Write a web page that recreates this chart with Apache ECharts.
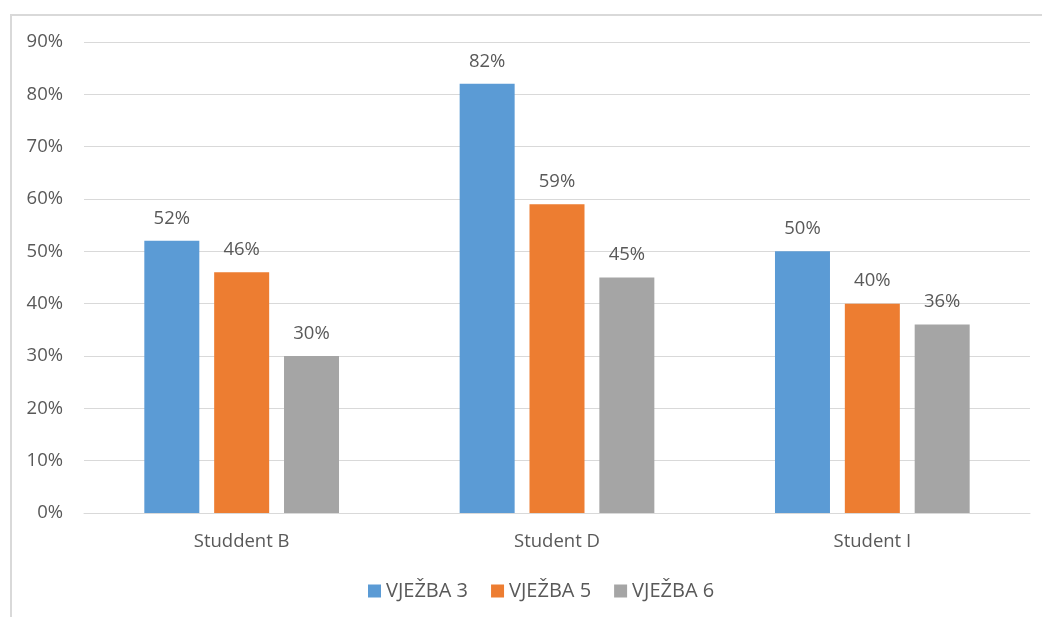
<!DOCTYPE html>
<html><head><meta charset="utf-8">
<script src="https://cdn.jsdelivr.net/npm/echarts@6/dist/echarts.min.js"></script>
<style>
html,body{margin:0;padding:0;background:#fff;}
#frame{position:absolute;left:10px;top:14px;width:1100px;height:700px;border-left:2px solid #d9d9d9;border-top:2px solid #d9d9d9;box-sizing:border-box;}
#c{position:absolute;left:0;top:0;width:1042px;height:617px;}
</style></head>
<body>
<div id="frame"></div>
<div id="c"></div>
<script>
const categories = ['Studdent B', 'Student D', 'Student I'];
const seriesNames = ['VJEŽBA 3', 'VJEŽBA 5', 'VJEŽBA 6'];
const vjezba3 = [52, 82, 50];
const vjezba5 = [46, 59, 40];
const vjezba6 = [30, 45, 36];
const colors = ['#5B9BD5', '#ED7D31', '#A5A5A5'];

const font = '"Open Sans", "Noto Sans", sans-serif';
const chart = echarts.init(document.getElementById('c'));
const data = [vjezba3, vjezba5, vjezba6];
chart.setOption({
  backgroundColor: 'transparent',
  animation: false,
  textStyle: {fontFamily: font},
  grid: {left: 84, right: 12, top: 42, bottom: 104},
  legend: {
    top: 576, left: 363,
    itemWidth: 13, itemHeight: 13, itemGap: 23,
    icon: 'rect',
    textStyle: {color: '#595959', fontSize: 20, fontFamily: font},
    data: seriesNames
  },
  xAxis: {
    type: 'category', data: categories,
    axisLine: {lineStyle: {color: '#d9d9d9', width: 1}},
    axisTick: {show: false},
    axisLabel: {color: '#595959', fontSize: 18.5, margin: 19, fontFamily: font}
  },
  yAxis: {
    type: 'value', min: 0, max: 90, interval: 10,
    axisLine: {show: false}, axisTick: {show: false},
    splitLine: {lineStyle: {color: '#d9d9d9', width: 1}},
    axisLabel: {color: '#595959', fontSize: 18.5, margin: 21, formatter: '{value}%', fontFamily: font}
  },
  series: seriesNames.map((n, i) => ({
    name: n, type: 'bar', data: data[i],
    barWidth: 55, barGap: '27%',
    itemStyle: {color: colors[i]},
    label: {show: true, position: 'top', distance: 13, color: '#595959', fontSize: 18.5, formatter: '{c}%', fontFamily: font}
  }))
});
</script>
</body></html>
